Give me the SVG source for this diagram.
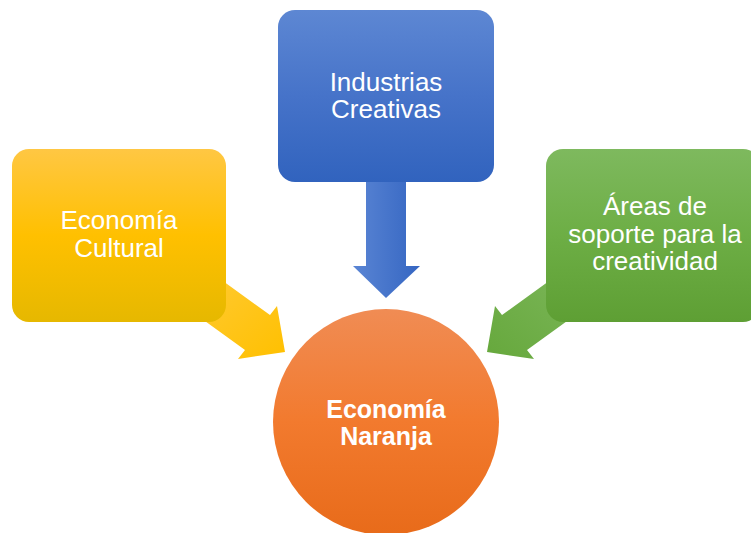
<svg xmlns="http://www.w3.org/2000/svg" width="751" height="533" viewBox="0 0 751 533">
<defs>
<linearGradient id="gY" x1="0" y1="0" x2="0" y2="1"><stop offset="0" stop-color="#FFC743"/><stop offset="0.5" stop-color="#FFC000"/><stop offset="1" stop-color="#E6B800"/></linearGradient>
<linearGradient id="gB" x1="0" y1="0" x2="0" y2="1"><stop offset="0" stop-color="#5D87D3"/><stop offset="0.5" stop-color="#4673C9"/><stop offset="1" stop-color="#3163BE"/></linearGradient>
<linearGradient id="gG" x1="0" y1="0" x2="0" y2="1"><stop offset="0" stop-color="#7EB95E"/><stop offset="0.5" stop-color="#6DAE45"/><stop offset="1" stop-color="#5E9F34"/></linearGradient>
<linearGradient id="gO" x1="0" y1="0" x2="0" y2="1"><stop offset="0" stop-color="#F08C54"/><stop offset="0.5" stop-color="#F27A2E"/><stop offset="1" stop-color="#E86B1A"/></linearGradient>
<linearGradient id="gBA" x1="0" y1="0" x2="1" y2="0"><stop offset="0" stop-color="#5A85D4"/><stop offset="1" stop-color="#3566C2"/></linearGradient>
<linearGradient id="gYA" x1="0" y1="0" x2="1" y2="1"><stop offset="0" stop-color="#FFCB3A"/><stop offset="1" stop-color="#FFC000"/></linearGradient>
<linearGradient id="gGA" x1="1" y1="0" x2="0" y2="1"><stop offset="0" stop-color="#7DB75B"/><stop offset="1" stop-color="#66A83C"/></linearGradient>
</defs>
<style>
.t{font-family:"Liberation Sans",Arial,sans-serif;font-size:26px;fill:#fff;text-anchor:middle}
.b{font-weight:bold;font-size:25px}
</style>
<g id="connectors">
<polygon points="205,268 270,315 277,306 285,352 238,359 245,350 180,303" fill="url(#gYA)"/>
<polygon points="567,268 502,315 495,306 487,352 534,359 527,350 592,303" fill="url(#gGA)"/>
<polygon points="366,170 406,170 406,266 420,266 386,298 353,266 366,266" fill="url(#gBA)"/>
</g>
<g id="economia-cultural">
<rect x="12" y="149" width="214" height="173" rx="17" fill="url(#gY)"/>
<text class="t" x="119" y="229">Economía</text>
<text class="t" x="119" y="257">Cultural</text>
</g>
<g id="industrias-creativas">
<rect x="278" y="10" width="216" height="172" rx="17" fill="url(#gB)"/>
<text class="t" x="386" y="91">Industrias</text>
<text class="t" x="386" y="118">Creativas</text>
</g>
<g id="areas-soporte">
<rect x="546" y="149" width="214" height="173" rx="17" fill="url(#gG)"/>
<text class="t" x="655" y="215">Áreas de</text>
<text class="t" x="655" y="243">soporte para la</text>
<text class="t" x="655" y="270">creatividad</text>
</g>
<g id="economia-naranja">
<circle cx="386" cy="422" r="113" fill="url(#gO)"/>
<text class="t b" x="386" y="418">Economía</text>
<text class="t b" x="386" y="445">Naranja</text>
</g>
</svg>
